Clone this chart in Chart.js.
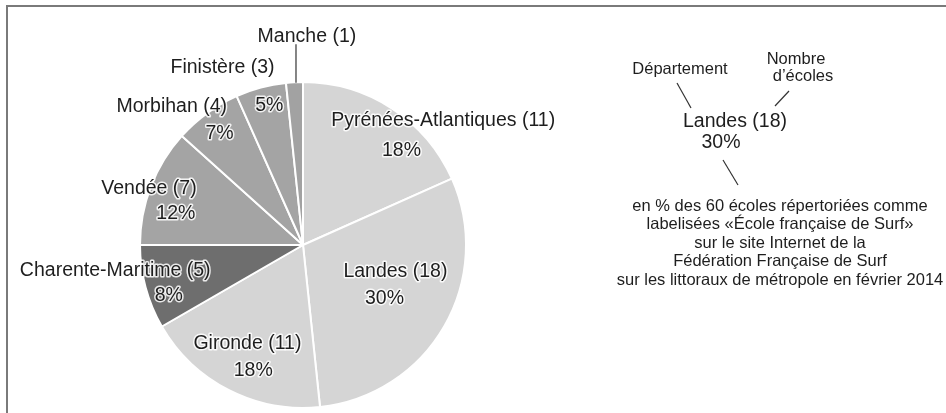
<!DOCTYPE html>
<html>
<head>
<meta charset="utf-8">
<script src="https://cdn.jsdelivr.net/npm/chart.js@4"></script>
<style>
  html, body { margin: 0; padding: 0; background: #fff; }
  #wrap { width: 946px; height: 413px; }
</style>
</head>
<body>
<div id="wrap"><canvas id="chart" width="946" height="413"></canvas></div>
<script>
const departements = ["Pyrénées-Atlantiques", "Landes", "Gironde", "Charente-Maritime", "Vendée", "Morbihan", "Finistère", "Manche"];
const ecoles = [11, 18, 11, 5, 7, 4, 3, 1];
const pourcentages = [18, 30, 18, 8, 12, 7, 5, 2];
const showPct = [true, true, true, true, true, true, true, false];

const couleurs = ["#d5d5d5", "#d5d5d5", "#d5d5d5", "#6e6e6e", "#a4a4a4", "#a4a4a4", "#a4a4a4", "#a2a2a2"];

// where each label sits, in pie radii from the centre: [name x, name y, pct x, pct y]
const placement = [
  [0.86, -0.762, 0.604, -0.579],
  [0.567, 0.165, 0.50, 0.329],
  [-0.341, 0.604, -0.305, 0.768],
  [-1.152, 0.159, -0.823, 0.311],
  [-0.945, -0.348, -0.78, -0.195],
  [-0.805, -0.848, -0.512, -0.683],
  [-0.494, -1.091, -0.207, -0.854],
  [0.024, -1.28, null, null]
];

const FONT = '"Liberation Sans", Arial, sans-serif';
const bigFont = "19.5px " + FONT;
const smallFont = "16.5px " + FONT;

function haloText(ctx, txt, x, y) {
  ctx.lineWidth = 3;
  ctx.lineJoin = "round";
  ctx.strokeStyle = "rgba(255,255,255,0.85)";
  ctx.strokeText(txt, x, y);
  ctx.fillStyle = "#1e1e1e";
  ctx.fillText(txt, x, y);
}

function line(ctx, x1, y1, x2, y2) {
  ctx.beginPath();
  ctx.moveTo(x1, y1);
  ctx.lineTo(x2, y2);
  ctx.stroke();
}

const annotations = {
  id: "annotations",
  beforeDraw(chart) {
    const ctx = chart.ctx;
    ctx.save();
    ctx.strokeStyle = "#7a7a7a";
    ctx.lineWidth = 2;
    line(ctx, 6, 6, chart.width, 6);
    line(ctx, 7, 5, 7, chart.height);
    ctx.restore();
  },
  afterDatasetsDraw(chart) {
    const ctx = chart.ctx;
    const arc = chart.getDatasetMeta(0).data[0];
    const cx = arc.x, cy = arc.y, R = arc.outerRadius;
    ctx.save();
    ctx.textAlign = "center";
    ctx.textBaseline = "middle";
    ctx.font = bigFont;
    departements.forEach((d, i) => {
      const p = placement[i];
      haloText(ctx, d + " (" + ecoles[i] + ")", cx + p[0] * R, cy + p[1] * R);
      if (showPct[i]) {
        haloText(ctx, pourcentages[i] + "%", cx + p[2] * R, cy + p[3] * R);
      }
    });
    // leader line for the thin Manche slice
    ctx.strokeStyle = "#333";
    ctx.lineWidth = 1.2;
    line(ctx, cx - 0.043 * R, cy - 1.232 * R, cx - 0.043 * R, cy - 0.995 * R);

    // key on the right
    ctx.fillStyle = "#1e1e1e";
    ctx.font = bigFont;
    ctx.fillText("Landes (18)", 735, 122);
    ctx.fillText("30%", 721, 143);
    ctx.font = smallFont;
    ctx.fillText("Département", 680, 69);
    ctx.fillText("Nombre", 796, 59);
    ctx.fillText("d\u2019écoles", 803, 76);
    line(ctx, 677, 83, 691, 108);
    line(ctx, 789, 91, 775, 106);
    line(ctx, 723, 160, 738, 185);
    const notes = [
      "en % des 60 écoles répertoriées comme",
      "labelisées «École française de Surf»",
      "sur le site Internet de la",
      "Fédération Française de Surf",
      "sur les littoraux de métropole en février 2014"
    ];
    notes.forEach((t, k) => ctx.fillText(t, 780, 206 + k * 18.6));
    ctx.restore();
  }
};

new Chart(document.getElementById("chart"), {
  type: "pie",
  data: {
    labels: departements,
    datasets: [{
      data: ecoles,
      backgroundColor: couleurs,
      borderColor: "#ffffff",
      borderWidth: 2
    }]
  },
  options: {
    responsive: false,
    animation: false,
    layout: { padding: { top: 81, bottom: 4, left: 139, right: 479 } },
    plugins: {
      legend: { display: false },
      tooltip: { enabled: false }
    }
  },
  plugins: [annotations]
});
</script>
</body>
</html>
